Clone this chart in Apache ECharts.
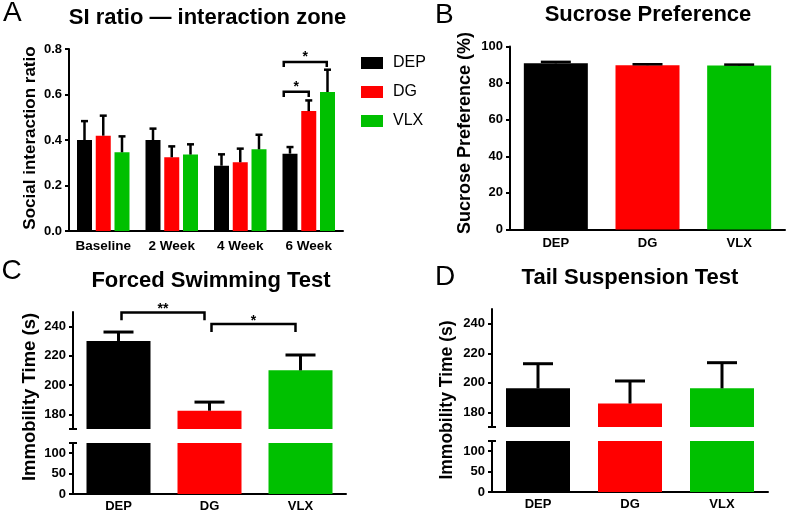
<!DOCTYPE html>
<html><head><meta charset="utf-8">
<script src="https://cdn.jsdelivr.net/npm/echarts@6/dist/echarts.min.js"></script>
<style>html,body{margin:0;padding:0;background:#fff}#c{width:787px;height:515px}</style>
</head><body><div id="c"></div>
<script>
// ---------- data ----------
const groups = ['DEP', 'DG', 'VLX'];
const groupColors = ['#000000', '#FF0000', '#00C000'];

// Panel A: SI ratio
const siWeeks = ['Baseline', '2 Week', '4 Week', '6 Week'];
const siDEP = [0.400, 0.400, 0.287, 0.340];
const siDEPerr = [0.083, 0.050, 0.050, 0.029];
const siDG = [0.419, 0.324, 0.302, 0.527];
const siDGerr = [0.088, 0.048, 0.060, 0.047];
const siVLX = [0.346, 0.336, 0.359, 0.611];
const siVLXerr = [0.070, 0.045, 0.064, 0.098];
const siTicks = [0, 0.2, 0.4, 0.6, 0.8];
// [category, offset, category, offset, bracket y, leg end y]
const siSig = [[3, -0.365, 3, 0.263, 0.743, 0.721], [3, -0.365, 3, 0.0, 0.612, 0.589]];
const siSigLabels = ['*', '*'];

// Panel B: Sucrose preference
const spMeans = [90.8, 89.8, 89.6];
const spErr = [0.8, 0.5, 0.5];
const spTicks = [0, 20, 40, 60, 80, 100];

// Panel C: Forced swimming test
const fstMeans = [230.2, 182.5, 210.1];
const fstErr = [6.1, 5.9, 10.5];
const fstSig = [[0, 0.033, 1, -0.055, 249.6, 244.3], [1, 0.022, 2, -0.055, 241.8, 236.3]];
const fstSigLabels = ['**', '*'];

// Panel D: Tail suspension test
const tstMeans = [196.2, 185.9, 196.2];
const tstErr = [16.7, 15.3, 17.4];

// broken axis ticks (C and D)
const upperTicks = [180, 200, 220, 240];
const lowerTicks = [0, 50, 100];
const upperRange = [170, 250];
const lowerRange = [0, 125];

// ---------- helpers ----------
const FONT = 'Liberation Sans, Arial, sans-serif';
const BAR_A = 15, GAP_A = 0.25, STEP_A = BAR_A * (1 + GAP_A);

function xAxisCfg(grid, show, labels, fs, margin) {
  return {
    type: 'category', gridIndex: grid, data: labels, show: show,
    axisLine: {lineStyle: {color: '#000', width: 2}},
    axisTick: {alignWithLabel: true, length: 4, lineStyle: {color: '#000', width: 2}},
    axisLabel: {color: '#000', fontWeight: 'bold', fontSize: fs, fontFamily: FONT, margin: margin, interval: 0},
    splitLine: {show: false}
  };
}
function yAxisCfg(grid, min, max, ticks, fmt) {
  return {
    type: 'value', gridIndex: grid, min: min, max: max,
    axisLine: {show: true, lineStyle: {color: '#000', width: 2}},
    axisTick: {show: true, length: 4, lineStyle: {color: '#000', width: 2}, customValues: ticks},
    axisLabel: {color: '#000', fontWeight: 'bold', fontSize: 13, fontFamily: FONT, margin: 7,
      customValues: ticks, formatter: fmt || (v => String(v))},
    splitLine: {show: false}
  };
}
function errSeries(xi, yi, means, errs, offsetPx, capW, lw) {
  return {
    type: 'custom', xAxisIndex: xi, yAxisIndex: yi, z: 5, silent: true,
    data: means.map((v, i) => [i, v, errs[i]]),
    encode: {x: 0, y: 1},
    renderItem: function (params, api) {
      const b = api.coord([api.value(0), api.value(1)]);
      const t = api.coord([api.value(0), api.value(1) + api.value(2)]);
      const x = b[0] + offsetPx;
      const st = {stroke: '#000', lineWidth: lw};
      return {type: 'group', children: [
        {type: 'line', shape: {x1: x, y1: b[1], x2: x, y2: t[1]}, style: st},
        {type: 'line', shape: {x1: x - capW / 2, y1: t[1], x2: x + capW / 2, y2: t[1]}, style: st}
      ]};
    }
  };
}
function sigSeries(xi, yi, sig, labels, textGap) {
  return {
    type: 'custom', xAxisIndex: xi, yAxisIndex: yi, z: 6, silent: true,
    data: sig, encode: {x: 0, y: 4},
    renderItem: function (params, api) {
      const band = api.size([1, 0])[0];
      const p1 = api.coord([api.value(0), api.value(4)]);
      const p2 = api.coord([api.value(2), api.value(4)]);
      const legY = api.coord([api.value(0), api.value(5)])[1];
      const x1 = p1[0] + api.value(1) * band;
      const x2 = p2[0] + api.value(3) * band;
      const y = p1[1];
      return {type: 'group', children: [
        {type: 'polyline', shape: {points: [[x1, legY], [x1, y], [x2, y], [x2, legY]]},
          style: {stroke: '#000', lineWidth: 2.5, fill: null}},
        {type: 'text', x: (x1 + x2) / 2, y: y - textGap,
          style: {text: labels[params.dataIndex], fill: '#000', fontSize: 14, fontWeight: 'bold',
            fontFamily: FONT, align: 'center', verticalAlign: 'middle'}}
      ]};
    }
  };
}
function capSeries(xi, yi, value) {
  return {
    type: 'custom', xAxisIndex: xi, yAxisIndex: yi, z: 6, silent: true,
    data: [[0, value]], encode: {x: 0, y: 1},
    renderItem: function (params, api) {
      const y = api.coord([0, api.value(1)])[1];
      const x = params.coordSys.x;
      return {type: 'line', shape: {x1: x - 4, y1: y, x2: x + 4, y2: y}, style: {stroke: '#000', lineWidth: 2}};
    }
  };
}
function coloredBars(xi, yi, means, w) {
  return {
    type: 'bar', xAxisIndex: xi, yAxisIndex: yi, barWidth: w, silent: true,
    data: means.map((v, i) => ({value: v, itemStyle: {color: groupColors[i]}}))
  };
}
function txt(x, y, text, size, weight, rot) {
  return {type: 'text', x: x, y: y, rotation: rot || 0, silent: true,
    style: {text: text, fill: '#000', font: weight + ' ' + size + 'px ' + FONT,
      textAlign: rot ? 'center' : (weight === 'normal' ? 'left' : 'center'), textVerticalAlign: 'middle'}};
}

// ---------- chart ----------
const chart = echarts.init(document.getElementById('c'), null, {renderer: 'canvas'});
const siSeries = [siDEP, siDG, siVLX];
const siErrs = [siDEPerr, siDGerr, siVLXerr];

const series = [];
groups.forEach((g, k) => {
  series.push({type: 'bar', name: g, xAxisIndex: 0, yAxisIndex: 0, data: siSeries[k],
    barWidth: BAR_A, barGap: (GAP_A * 100) + '%', itemStyle: {color: groupColors[k]}, silent: true});
});
groups.forEach((g, k) => series.push(errSeries(0, 0, siSeries[k], siErrs[k], (k - 1) * STEP_A, 7, 2.5)));
series.push(sigSeries(0, 0, siSig, siSigLabels, 5));

series.push(coloredBars(1, 1, spMeans, 64));
series.push(errSeries(1, 1, spMeans, spErr, 0, 30, 2.5));

series.push(coloredBars(2, 2, fstMeans, 64));
series.push(coloredBars(3, 3, fstMeans, 64));
series.push(errSeries(2, 2, fstMeans, fstErr, 0, 30, 3));
series.push(sigSeries(2, 2, fstSig, fstSigLabels, 3));
series.push(capSeries(2, 2, upperRange[0]));
series.push(capSeries(3, 3, lowerRange[1]));

series.push(coloredBars(4, 4, tstMeans, 64));
series.push(coloredBars(5, 5, tstMeans, 64));
series.push(errSeries(4, 4, tstMeans, tstErr, 0, 30, 3));
series.push(capSeries(4, 4, upperRange[0]));
series.push(capSeries(5, 5, lowerRange[1]));

chart.setOption({
  animation: false,
  backgroundColor: '#fff',
  textStyle: {fontFamily: FONT},
  grid: [
    {left: 69, top: 49, width: 274, height: 182},
    {left: 510, top: 46.5, width: 275, height: 183},
    {left: 73, top: 312, width: 273, height: 117},
    {left: 73, top: 443, width: 273, height: 51},
    {left: 492, top: 309, width: 276, height: 118},
    {left: 492, top: 441, width: 276, height: 51}
  ],
  legend: {
    data: groups, orient: 'vertical', left: 361, top: 55, padding: 0,
    itemWidth: 22, itemHeight: 12, itemGap: 13, icon: 'rect', selectedMode: false,
    textStyle: {fontSize: 16, fontFamily: FONT, color: '#000', lineHeight: 12, padding: [0, 0, 0, 5]}
  },
  xAxis: [
    xAxisCfg(0, true, siWeeks, 13.5, 8),
    xAxisCfg(1, true, groups, 13, 7),
    xAxisCfg(2, false, groups, 13, 6),
    xAxisCfg(3, true, groups, 13, 6),
    xAxisCfg(4, false, groups, 13, 6),
    xAxisCfg(5, true, groups, 13, 6)
  ],
  yAxis: [
    yAxisCfg(0, 0, 0.8, siTicks, v => v.toFixed(1)),
    yAxisCfg(1, 0, 100, spTicks),
    yAxisCfg(2, upperRange[0], upperRange[1], upperTicks),
    yAxisCfg(3, lowerRange[0], lowerRange[1], lowerTicks),
    yAxisCfg(4, upperRange[0], upperRange[1], upperTicks),
    yAxisCfg(5, lowerRange[0], lowerRange[1], lowerTicks)
  ],
  graphic: [
    txt(3, 13, 'A', 28, 'normal'),
    txt(435, 15, 'B', 28, 'normal'),
    txt(1.5, 271, 'C', 28, 'normal'),
    txt(435, 277.5, 'D', 28, 'normal'),
    txt(207.5, 17.5, 'SI ratio — interaction zone', 22, 'bold'),
    txt(648, 14.5, 'Sucrose Preference', 22, 'bold'),
    txt(211, 281, 'Forced Swimming Test', 22, 'bold'),
    txt(630, 277.5, 'Tail Suspension Test', 22, 'bold'),
    txt(30, 138, 'Social interaction ratio', 17, 'bold', Math.PI / 2),
    txt(465, 133, 'Sucrose Preference (%)', 18, 'bold', Math.PI / 2),
    txt(30, 397, 'Immobility Time (s)', 18.5, 'bold', Math.PI / 2),
    txt(447, 400, 'Immobility Time (s)', 17.5, 'bold', Math.PI / 2)
  ],
  series: series
});
</script></body></html>
